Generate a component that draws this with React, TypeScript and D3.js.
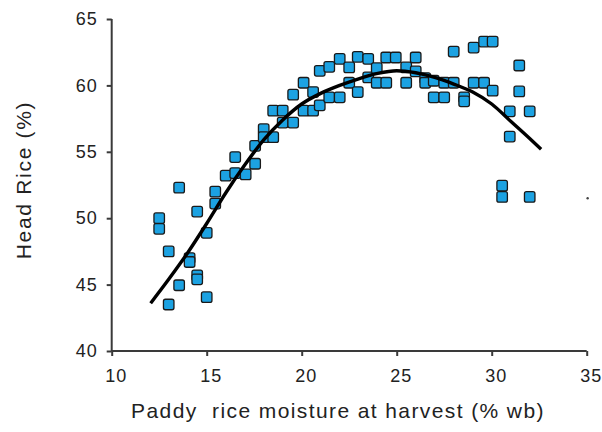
import React, { useEffect, useRef } from 'react';
import * as d3 from 'd3';

// moisture (% wb) and head rice (%)
const moisture = [
  12.5, 12.5, 13.0, 13.0, 13.55, 13.55, 14.1, 14.1, 14.5, 14.5, 14.5, 15.0, 15.0,
  15.45, 15.45, 16.0, 16.5, 16.5, 17.05, 17.55, 17.55, 18.0, 18.0, 18.5, 18.5,
  19.0, 19.0, 19.55, 19.55, 20.1, 20.1, 20.6, 20.6, 20.95, 20.95, 21.45, 21.45,
  22.0, 22.0, 22.5, 22.5, 22.95, 22.95, 23.5, 23.5, 23.95, 23.95, 24.45, 24.45,
  24.95, 25.5, 25.5, 26.0, 26.0, 26.5, 26.5, 26.95, 26.95, 27.5, 27.5, 28.0, 28.0,
  28.55, 28.55, 29.05, 29.05, 29.6, 29.6, 30.05, 30.05, 30.55, 30.55, 30.95, 30.95,
  31.45, 31.45, 32.0, 32.0,
];
const headRice = [
  50.0, 49.2, 47.5, 43.5, 52.3, 44.95, 47.0, 46.7, 45.7, 45.4, 50.5, 48.9, 44.05,
  51.1, 52.0, 53.2, 53.4, 54.6, 53.3, 54.1, 55.45, 56.7, 56.1, 56.1, 58.1,
  58.1, 57.2, 57.2, 59.3, 58.1, 60.2, 59.5, 58.1, 58.5, 61.1, 59.1, 61.4,
  59.1, 62.0, 61.35, 60.2, 62.15, 59.5, 62.0, 60.6, 61.3, 60.2, 62.1, 60.2,
  62.1, 61.35, 60.2, 62.1, 61.05, 60.55, 60.2, 60.35, 59.1, 60.2, 59.1, 60.2, 62.55,
  59.1, 58.8, 60.2, 62.85, 60.2, 63.3, 63.3, 59.6, 52.45, 51.6, 58.05, 56.15,
  61.5, 59.55, 58.05, 51.6,
];

// trend line as drawn in the picture
const trendX = [12.05, 13, 14, 15, 16, 17, 18, 19, 20, 21, 22, 23, 24, 25, 26, 27, 28, 29, 30, 31, 32, 32.6];
const trendY = [43.6, 45.4, 47.4, 49.6, 51.9, 54.0, 55.9, 57.4, 58.6, 59.4, 60.0, 60.5, 60.9, 61.1, 60.95, 60.6, 60.1, 59.5, 58.6, 57.3, 56.0, 55.2];

const xTicks = [10, 15, 20, 25, 30, 35];
const yTicks = [40, 45, 50, 55, 60, 65];

// small stray mark at the right edge
const strayMark = [35.05, 51.5];

const App = () => {
  const ref = useRef(null);

  useEffect(() => {
    const svg = d3.select(ref.current);
    svg.selectAll('*').remove();

    const x = d3.scaleLinear().domain([10, 35]).range([111.7, 586.7]);
    const y = d3.scaleLinear().domain([40, 65]).range([351, 19]);

    const font = 'Liberation Sans, Arial, sans-serif';
    const axisColor = '#3a3a3a';

    // x axis
    const xAxis = d3.axisBottom(x).tickValues(xTicks).tickSize(5).tickPadding(13).tickFormat(d3.format('d'));
    const gx = svg.append('g').attr('transform', 'translate(0,' + y(40) + ')').call(xAxis);
    gx.select('.domain').attr('stroke', axisColor).attr('stroke-width', 2).attr('d', 'M' + x(10) + ',0H' + x(35));
    gx.selectAll('.tick line').attr('stroke', axisColor).attr('stroke-width', 2);
    gx.selectAll('.tick text')
      .attr('fill', '#222')
      .attr('font-family', font)
      .attr('font-size', 18)
      .attr('letter-spacing', 1)
      .attr('dx', 4);

    // y axis
    const yAxis = d3.axisLeft(y).tickValues(yTicks).tickSize(5).tickPadding(9).tickFormat(d3.format('d'));
    const gy = svg.append('g').attr('transform', 'translate(' + x(10) + ',0)').call(yAxis);
    gy.select('.domain').attr('stroke', axisColor).attr('stroke-width', 2).attr('d', 'M0,' + y(65) + 'V' + y(40));
    gy.selectAll('.tick line').attr('stroke', axisColor).attr('stroke-width', 2);
    gy.selectAll('.tick text')
      .attr('fill', '#222')
      .attr('font-family', font)
      .attr('font-size', 18)
      .attr('letter-spacing', 1);

    // points
    const pts = moisture.map((m, i) => [m, headRice[i]]);
    const size = 10.5;
    svg.append('g')
      .selectAll('rect')
      .data(pts)
      .enter()
      .append('rect')
      .attr('x', (d) => x(d[0]) - size / 2)
      .attr('y', (d) => y(d[1]) - size / 2)
      .attr('width', size)
      .attr('height', size)
      .attr('rx', 2)
      .attr('fill', '#1ca2e2')
      .attr('stroke', '#1a1a1a')
      .attr('stroke-width', 1.3);

    // trend line
    const line = d3.line()
      .x((d) => x(d[0]))
      .y((d) => y(d[1]))
      .curve(d3.curveMonotoneX);
    svg.append('path')
      .datum(trendX.map((t, i) => [t, trendY[i]]))
      .attr('d', line)
      .attr('fill', 'none')
      .attr('stroke', '#000')
      .attr('stroke-width', 3.4);

    svg.append('circle')
      .attr('cx', x(strayMark[0]))
      .attr('cy', y(strayMark[1]))
      .attr('r', 1.2)
      .attr('fill', '#444');

    // axis titles
    svg.append('text')
      .attr('x', 338)
      .attr('y', 418)
      .attr('text-anchor', 'middle')
      .attr('font-family', font)
      .attr('font-size', 21)
      .attr('letter-spacing', 1.4)
      .attr('fill', '#222')
      .style('white-space', 'pre')
      .text('Paddy  rice moisture at harvest (% wb)');

    svg.append('text')
      .attr('transform', 'translate(31,' + 180 + ') rotate(-90)')
      .attr('text-anchor', 'middle')
      .attr('font-family', font)
      .attr('font-size', 21)
      .attr('letter-spacing', 1.7)
      .attr('fill', '#222')
      .text('Head Rice (%)');
  }, []);

  return (
    <svg
      ref={ref}
      width={602}
      height={432}
      style={{ position: 'absolute', left: 0, top: 0, background: '#fff' }}
    />
  );
};

export default App;
